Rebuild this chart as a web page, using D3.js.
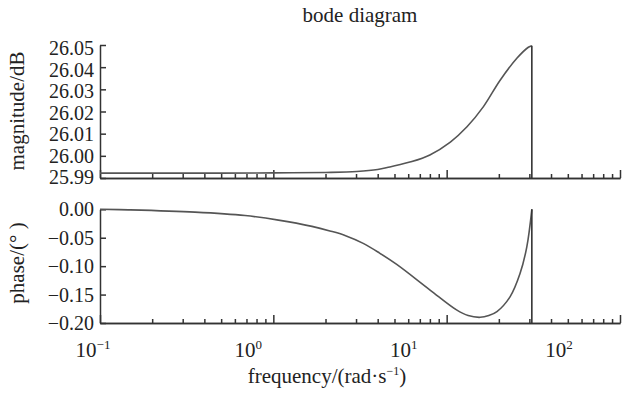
<!DOCTYPE html>
<html>
<head>
<meta charset="utf-8">
<script src="https://cdn.jsdelivr.net/npm/d3@7/dist/d3.min.js"></script>
<style>
  body { margin: 0; background: #fff; }
  svg { display: block; }
  text { font-family: "Liberation Serif", "Times New Roman", "DejaVu Serif", serif; }
</style>
</head>
<body>
<svg id="chart"></svg>
<script>
// magnitude curve (rad/s, dB)
var magFreq = [0.1, 0.5, 1, 2, 3.03, 4.0, 4.7, 6.3, 8.0, 10.5, 13.1, 16.3, 20.3, 25.4, 29.6, 31];
var magValues = [25.9922, 25.9922, 25.9923, 25.9925, 25.9929, 25.9938, 25.9950, 25.9974, 26.0004, 26.0062,
                 26.0131, 26.0222, 26.0340, 26.0440, 26.0490, 26.0497];
// phase curve (rad/s, degrees)
var phaseFreq = [0.1, 0.146, 0.353, 0.687, 1.07, 1.67, 2.12, 2.59, 3.3, 4.1, 5.15, 8.02, 11.4, 13.3, 15.6, 17.5, 19.5, 23.2, 26.5, 29, 31];
var phaseValues = [0, -0.001, -0.005, -0.011, -0.019, -0.030, -0.038, -0.046, -0.060, -0.077, -0.097, -0.142, -0.177,
                   -0.187, -0.190, -0.187, -0.180, -0.154, -0.113, -0.066, 0.000];
var magTicks = [26.05, 26.04, 26.03, 26.02, 26.01, 26.00, 25.99];
var phaseTicks = [0, -0.05, -0.10, -0.15, -0.20];
var decadeTicks = [0.1, 1, 10, 100];
var decadeExp = ["\u22121", "0", "1", "2"];

var width = 636, height = 398;
var fontSize = 21, tickFont = 20;
var svg = d3.select("#chart").attr("width", width).attr("height", height)
    .attr("font-family", "'Liberation Serif', 'Times New Roman', serif");

var x = d3.scaleLog().domain([0.1, 100]).range([100, 620]);
// tick labels in the figure sit on a slightly narrower spacing than the ticks
var xLabel = d3.scaleLog().domain([0.1, 100]).range([93, 559]);

var yMag = d3.scaleLinear().domain([25.99, 26.05]).range([178, 45]);
var yMagLabel = d3.scaleLinear().domain([25.99, 26.05]).range([177, 48]);
var yPhase = d3.scaleLinear().domain([-0.2, 0]).range([323, 209.3]);

var ink = "#333";
var fmt = d3.format(".2f");

function drawPanel(yScale, yLabelScale, ticks, freqs, values, title, titleY) {
    var g = svg.append("g");
    var yBottom = yScale.range()[0];

    // x axis: minor + major ticks pointing inward
    g.append("g")
        .attr("transform", "translate(0," + yBottom + ")")
        .call(d3.axisBottom(x).tickValues(x.ticks().filter(function (d) {
            return decadeTicks.indexOf(d) < 0;
        })).tickSizeInner(-4).tickSizeOuter(0).tickFormat(""));
    g.append("g")
        .attr("transform", "translate(0," + yBottom + ")")
        .call(d3.axisBottom(x).tickValues(decadeTicks).tickSizeInner(-8).tickSizeOuter(0).tickFormat(""));

    // y axis
    g.append("g")
        .attr("transform", "translate(" + x.range()[0] + ",0)")
        .call(d3.axisLeft(yScale).tickValues(ticks).tickSizeInner(-6).tickSizeOuter(0).tickFormat(""));

    g.selectAll(".domain, .tick line").attr("stroke", ink).attr("stroke-width", 1.5);

    // y tick labels
    g.selectAll(".ylab")
        .data(ticks)
        .enter().append("text")
        .attr("class", "ylab")
        .attr("x", 94)
        .attr("y", function (d) { return yLabelScale(d); })
        .attr("dy", "0.35em")
        .attr("text-anchor", "end")
        .attr("font-size", tickFont)
        .attr("fill", "#222")
        .text(function (d) { return fmt(d).replace("-", "\u2212"); });

    // y title
    g.append("text")
        .attr("transform", "translate(24," + titleY + ") rotate(-90)")
        .attr("text-anchor", "middle")
        .attr("font-size", fontSize)
        .attr("fill", "#222")
        .text(title);

    // curve plus the drop line back to the axis
    var pts = freqs.map(function (f, i) { return [x(f), yScale(values[i])]; });
    g.append("path")
        .attr("d", d3.line().curve(d3.curveCatmullRom.alpha(0.5))(pts))
        .attr("fill", "none")
        .attr("stroke", "#555")
        .attr("stroke-width", 1.6);
    var last = freqs[freqs.length - 1];
    g.append("line")
        .attr("x1", x(last)).attr("x2", x(last))
        .attr("y1", yScale(values[values.length - 1]))
        .attr("y2", yBottom)
        .attr("stroke", ink)
        .attr("stroke-width", 1.6);
}

drawPanel(yMag, yMagLabel, magTicks, magFreq, magValues, "magnitude/dB", 111);
drawPanel(yPhase, yPhase, phaseTicks, phaseFreq, phaseValues, "phase/(\u00b0 )", 263);

// title
svg.append("text")
    .attr("x", 360).attr("y", 22)
    .attr("text-anchor", "middle")
    .attr("font-size", fontSize)
    .attr("fill", "#222")
    .text("bode diagram");

// decade labels 10^k
var xl = svg.selectAll(".xlab")
    .data(decadeTicks)
    .enter().append("text")
    .attr("class", "xlab")
    .attr("x", function (d) { return xLabel(d); })
    .attr("y", 357)
    .attr("text-anchor", "middle")
    .attr("font-size", fontSize)
    .attr("fill", "#222");
xl.append("tspan").text("10");
xl.append("tspan")
    .attr("dy", -8)
    .attr("font-size", 13)
    .text(function (d, i) { return decadeExp[i]; });

// x title
var xt = svg.append("text")
    .attr("x", 327).attr("y", 383)
    .attr("text-anchor", "middle")
    .attr("font-size", fontSize)
    .attr("fill", "#222");
xt.append("tspan").text("frequency/(rad\u00b7s");
xt.append("tspan").attr("dy", -8).attr("font-size", 12).text("\u22121");
xt.append("tspan").attr("dy", 8).text(")");
</script>
</body>
</html>
